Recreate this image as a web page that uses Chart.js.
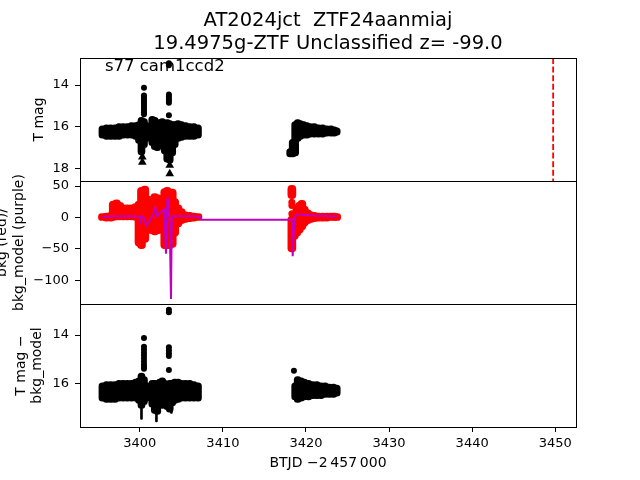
<!DOCTYPE html>
<html>
<head>
<meta charset="utf-8">
<script src="https://cdn.jsdelivr.net/npm/chart.js@4.4.0/dist/chart.umd.min.js"></script>
<style>
body { margin: 0; background: #fff; }
#wrap { position: relative; width: 640px; height: 480px; }
#wrap canvas { position: absolute; left: 0; top: 0; }
</style>
</head>
<body>
<div id="wrap">
  <canvas id="magChart" width="640" height="480"></canvas>
  <canvas id="bkgChart" width="640" height="480"></canvas>
  <canvas id="diffChart" width="640" height="480"></canvas>
</div>
<script>
// ---- data (BTJD - 2457000) ----
var titleLines = ['AT2024jct  ZTF24aanmiaj', '19.4975g-ZTF Unclassified z= -99.0'];
var fieldName = 's77 cam1ccd2';
var xMin = 3392.8, xMax = 3452.5;
var xTicks = [3400, 3410, 3420, 3430, 3440, 3450];
var peakTime = 3449.75;

// panel 1 : T mag (envelopes of the dense point clouds)
var magMin = 12.7, magMax = 18.6;
var magTicks = [14, 16, 18];
var seg1X = [3395.5, 3396, 3396.5, 3397, 3397.5, 3398, 3398.5, 3399, 3399.5, 3399.9, 3400.2, 3400.5, 3400.8, 3401.1, 3401.5, 3401.8, 3402.1, 3402.4, 3402.7, 3403, 3403.3, 3403.6, 3403.9, 3404.2, 3404.6, 3405, 3405.5, 3406, 3406.5, 3407];
var magTop1 = [15.95, 15.9, 15.9, 15.9, 15.85, 15.85, 15.85, 15.8, 15.8, 15.75, 15.55, 15.6, 15.8, 15.85, 15.5, 15.55, 15.75, 15.65, 15.6, 15.7, 15.65, 15.7, 15.75, 15.75, 15.7, 15.75, 15.8, 15.85, 15.85, 15.9];
var magBot1 = [16.55, 16.6, 16.6, 16.6, 16.6, 16.55, 16.55, 16.55, 16.6, 16.8, 17.35, 17.0, 16.7, 16.3, 16.9, 17.1, 17.15, 16.9, 17.0, 17.3, 17.7, 17.75, 17.4, 17.0, 16.7, 16.65, 16.6, 16.6, 16.6, 16.55];
var seg2X = [3418.1, 3418.4, 3418.7, 3419.0, 3419.3, 3419.7, 3420.1, 3420.5, 3421, 3421.5, 3422, 3422.5, 3423, 3423.4, 3423.7];
var magTop2 = [17.05, 16.6, 15.75, 15.65, 15.7, 15.75, 15.8, 15.85, 15.85, 15.9, 15.9, 15.95, 15.95, 16.0, 16.05];
var magBot2 = [17.45, 17.45, 17.4, 16.7, 16.6, 16.55, 16.55, 16.5, 16.5, 16.5, 16.5, 16.45, 16.45, 16.45, 16.4];
var magOutX = [3400.5, 3400.5, 3400.5, 3400.5, 3400.5, 3400.5, 3400.5, 3400.5, 3400.5, 3400.5, 3400.5, 3403.5, 3403.5, 3403.5, 3403.5, 3403.5, 3403.5, 3403.5, 3403.5];
var magOutY = [14.13, 14.5, 14.6, 14.7, 14.8, 14.9, 15.0, 15.1, 15.2, 15.3, 15.4, 12.95, 13.05, 14.45, 14.55, 14.65, 14.75, 14.85, 15.45];
var magLimX = [3400.3, 3400.3, 3403.6, 3403.6, 3418.2, 3418.5];
var magLimY = [17.45, 17.7, 17.85, 18.25, 17.25, 17.2];

// panel 2 : background (red) and background model (purple)
var bkgMin = -138, bkgMax = 58;
var bkgTicks = [50, 0, -50, -100];
var bkgX1 = [3395.5, 3396, 3396.5, 3396.8, 3397.2, 3397.6, 3398, 3398.5, 3399, 3399.5, 3399.9, 3400.2, 3400.6, 3401, 3401.4, 3401.8, 3402.2, 3402.6, 3403, 3403.3, 3403.6, 3403.9, 3404.2, 3404.6, 3405, 3405.5, 3406, 3406.5, 3407];
var bkgHi1 = [6, 7, 8, 26, 28, 24, 20, 20, 20, 22, 26, 48, 50, 34, 28, 38, 36, 30, 46, 48, 42, 45, 30, 20, 14, 9, 8, 7, 6];
var bkgLo1 = [-5, -6, -6, -5, -4, -4, -4, -4, -4, -5, -46, -50, -40, -20, -26, -28, -26, -22, -50, -50, -50, -48, -30, -15, -10, -8, -7, -6, -5];
var bkgX2 = [3418.3, 3418.3, 3418.6, 3418.9, 3419.2, 3419.5, 3419.8, 3420.2, 3420.6, 3421, 3421.5, 3422, 3422.5, 3423, 3423.4, 3423.7];
var bkgHi2 = [51, 2, 10, 18, 24, 27, 18, 12, 9, 8, 7, 7, 7, 7, 7, 6];
var bkgLo2 = [30, -55, -35, -30, -25, -20, -14, -10, -8, -7, -6, -6, -6, -5, -5, -5];
var bkgDotX = [3418.3, 3418.3, 3418.3];
var bkgDotY = [24, 19, 6];
var modelX = [3395.5, 3397, 3399.5, 3400.0, 3400.1, 3400.25, 3400.45, 3400.8, 3401.0, 3401.3, 3401.6, 3401.85, 3402.05, 3402.3, 3402.6, 3402.9, 3403.05, 3403.15, 3403.3, 3403.4, 3403.6, 3403.75, 3403.85, 3404.0, 3404.3, 3405, 3406, 3407.2, 3407.4, 3418.3, 3418.4, 3418.5, 3418.6, 3418.8, 3419.2, 3420, 3421, 3422, 3423, 3423.8];
var modelY = [1, 2, 2, 1, -6, 2, 0, -13, -9, -2, 4, 16, 2, 5, 9, 12, -28, -58, 28, 29, -10, -130, -2, 2, 2, 2, 2, 1, -3.7, -3.7, -62, -30, -2, 4, 5, 4, 3, 2.5, 2, 1.5];

// panel 3 : T mag - bkg_model
var diffMin = 12.73, diffMax = 17.76;
var diffTicks = [14, 16];
var diffTop1 = [15.95, 15.9, 15.9, 15.9, 15.85, 15.85, 15.85, 15.85, 15.8, 15.75, 15.55, 15.7, 15.95, 16.0, 15.85, 15.85, 15.95, 15.8, 15.75, 15.85, 15.9, 15.85, 15.85, 15.8, 15.8, 15.85, 15.85, 15.85, 15.9, 15.95];
var diffBot1 = [16.7, 16.75, 16.75, 16.75, 16.7, 16.7, 16.7, 16.7, 16.7, 16.8, 17.0, 16.85, 16.7, 16.6, 16.95, 17.2, 17.25, 16.9, 17.0, 16.95, 17.05, 17.15, 16.9, 16.8, 16.75, 16.7, 16.7, 16.7, 16.7, 16.7];
var diffX2 = [3418.7, 3419.0, 3419.4, 3419.8, 3420.3, 3420.8, 3421.3, 3421.8, 3422.3, 3422.8, 3423.3, 3423.7];
var diffTop2 = [15.95, 15.7, 15.75, 15.8, 15.85, 15.9, 15.9, 15.95, 15.95, 16.0, 16.0, 16.05];
var diffBot2 = [16.65, 16.75, 16.7, 16.65, 16.65, 16.6, 16.6, 16.6, 16.55, 16.55, 16.55, 16.5];
var diffOutX = [3400.5, 3400.5, 3400.5, 3400.5, 3400.5, 3400.5, 3400.5, 3400.5, 3400.5, 3400.5, 3403.5, 3403.5, 3403.5, 3403.5, 3403.5, 3403.5, 3403.5, 3418.55];
var diffOutY = [14.12, 14.48, 14.6, 14.72, 14.84, 14.96, 15.08, 15.2, 15.3, 15.38, 12.97, 13.07, 14.5, 14.62, 14.74, 14.86, 15.43, 15.46];
var errX = [3400.2, 3402.0, 3403.8];
var errLo = [16.9, 17.1, 16.9];
var errHi = [17.45, 17.55, 17.2];

// ---- helpers ----
Chart.defaults.font.family = '"DejaVu Sans", sans-serif';
Chart.defaults.color = '#000';

function pts(xs, ys) {
    return xs.map(function (x, i) { return { x: x, y: ys[i] }; });
}

// dense cloud of markers drawn as floating bars from a to b
function cloud(xs, a, b, color, width) {
    return {
        type: 'bar',
        data: xs.map(function (x, i) { return { x: x, y: [a[i], b[i]] }; }),
        backgroundColor: color,
        borderWidth: 0,
        barThickness: width,
        borderRadius: width / 2,
        borderSkipped: false,
        grouped: false,
        order: 2
    };
}

function dots(xs, ys, color, style, r) {
    return {
        type: 'scatter',
        data: pts(xs, ys),
        backgroundColor: color,
        borderWidth: 0,
        pointRadius: r,
        pointStyle: style,
        order: 1
    };
}

function yAxis(min, max, ticks, reverse, title, titlePad) {
    return {
        type: 'linear', min: min, max: max, reverse: reverse, beginAtZero: false,
        afterBuildTicks: function (s) { s.ticks = ticks.map(function (v) { return { value: v }; }); },
        afterFit: function (s) { s.width = 80; },
        ticks: {
            font: { size: 13 }, padding: 6,
            callback: function (v) { return String(v).replace('-', '\u2212'); }
        },
        grid: { drawOnChartArea: false, color: '#000', tickLength: 5, offset: false },
        border: { display: false },
        title: { display: true, text: title, font: { size: 14 }, padding: { top: titlePad, bottom: 0 } }
    };
}

function xAxis(show) {
    return {
        type: 'linear', min: xMin, max: xMax, display: show, offset: false,
        afterBuildTicks: function (s) { s.ticks = xTicks.map(function (v) { return { value: v }; }); },
        afterFit: function (s) { s.height = show ? 53 : 0; },
        ticks: { font: { size: 13 }, padding: 4, maxRotation: 0, callback: function (v) { return String(v); } },
        grid: { drawOnChartArea: false, color: '#000', tickLength: 5, offset: false },
        border: { display: false },
        title: { display: true, text: 'BTJD \u22122\u2009457\u2009000', font: { size: 14 }, padding: { top: 0, bottom: 8.6 } }
    };
}

// axes box; edges land on the same pixel rows as the neighbouring panel
var framePlugin = {
    id: 'frame',
    afterDraw: function (chart) {
        var a = chart.chartArea, c = chart.ctx;
        c.save();
        c.strokeStyle = '#000';
        c.lineWidth = 1;
        c.strokeRect(Math.round(a.left) + 0.5, Math.round(a.top) + 0.5, Math.round(a.width), Math.round(a.height));
        c.restore();
    }
};

function options(pad, yCfg, showX, extra) {
    var o = {
        responsive: false,
        animation: false,
        devicePixelRatio: 1,
        layout: { padding: pad },
        plugins: { legend: { display: false }, tooltip: { enabled: false } },
        scales: { x: xAxis(showX), y: yCfg }
    };
    if (extra) o.plugins.title = extra;
    return o;
}

// ---- panel 1 ----
var labelPlugin = {
    id: 'fieldLabel',
    afterDatasetsDraw: function (chart) {
        var c = chart.ctx;
        c.save();
        c.fillStyle = '#000';
        c.font = '16.5px "DejaVu Sans"';
        c.textBaseline = 'alphabetic';
        c.fillText(fieldName, chart.scales.x.getPixelForValue(3395.8), chart.chartArea.top + 13);
        c.restore();
    }
};

new Chart(document.getElementById('magChart'), {
    type: 'scatter',
    data: {
        datasets: [
            {
                type: 'line',
                data: [{ x: peakTime, y: magMin }, { x: peakTime, y: magMax }],
                borderColor: '#ff0000', borderWidth: 1.8, borderDash: [6, 2.6],
                pointRadius: 0, order: 0
            },
            dots(magOutX, magOutY, '#000', 'circle', 3),
            dots(magLimX, magLimY, '#000', 'triangle', 5),
            cloud(seg1X, magTop1, magBot1, '#000', 7),
            cloud(seg2X, magTop2, magBot2, '#000', 7)
        ]
    },
    options: options({ top: 0, bottom: 299, left: 0, right: 64 },
        yAxis(magMin, magMax, magTicks, true, 'T mag', 30.6), false,
        { display: true, text: titleLines, fullSize: false, color: '#000',
          font: { size: 19.5, weight: 'normal', lineHeight: 22.5 / 19.5 },
          padding: { top: 10, bottom: 3 } }),
    plugins: [framePlugin, labelPlugin]
});

// ---- panel 2 ----
new Chart(document.getElementById('bkgChart'), {
    type: 'scatter',
    data: {
        datasets: [
            {
                type: 'line',
                data: pts(modelX, modelY),
                borderColor: '#bf00bf', borderWidth: 2, pointRadius: 0, tension: 0, order: 0
            },
            dots(bkgDotX, bkgDotY, '#ff0000', 'circle', 3.5),
            cloud(bkgX1, bkgLo1, bkgHi1, '#ff0000', 8),
            cloud(bkgX2, bkgLo2, bkgHi2, '#ff0000', 8)
        ]
    },
    options: options({ top: 181, bottom: 176, left: 0, right: 64 },
        yAxis(bkgMin, bkgMax, bkgTicks, false, ['bkg (red)/', 'bkg_model (purple)'], -5.7), false),
    plugins: [framePlugin]
});

// ---- panel 3 ----
new Chart(document.getElementById('diffChart'), {
    type: 'scatter',
    data: {
        datasets: [
            dots(diffOutX, diffOutY, '#000', 'circle', 3),
            cloud(errX, errLo, errHi, '#000', 2),
            cloud(seg1X, diffTop1, diffBot1, '#000', 7),
            cloud(diffX2, diffTop2, diffBot2, '#000', 7)
        ]
    },
    options: options({ top: 304, bottom: 0, left: 0, right: 64 },
        yAxis(diffMin, diffMax, diffTicks, true, ['T mag \u2212', 'bkg_model'], 12.6), true),
    plugins: [framePlugin]
});
</script>
</body>
</html>
